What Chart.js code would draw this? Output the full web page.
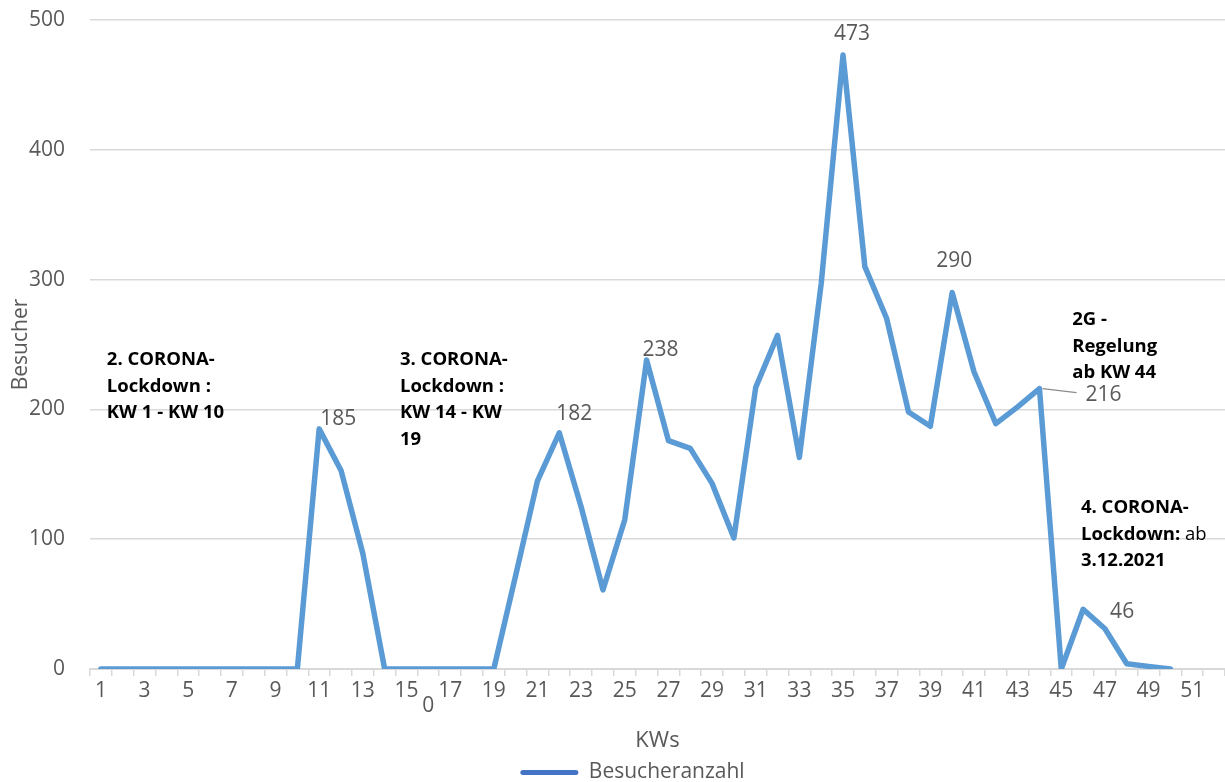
<!DOCTYPE html>
<html lang="de">
<head>
<meta charset="utf-8">
<title>Besucheranzahl pro Kalenderwoche</title>
<script src="https://cdn.jsdelivr.net/npm/chart.js@4.4.1/dist/chart.umd.min.js"></script>
<style>
  html, body { margin: 0; padding: 0; background: #ffffff; }
  #wrap { width: 1225px; height: 782px; position: relative; }
</style>
</head>
<body>
<div id="wrap"><canvas id="chart" width="1225" height="782"></canvas></div>
<script>
// Kalenderwochen (Kategorien)
const weeks = ['1','2','3','4','5','6','7','8','9','10','11','12','13','14','15','16','17','18','19','20',
  '21','22','23','24','25','26','27','28','29','30','31','32','33','34','35','36','37','38','39','40',
  '41','42','43','44','45','46','47','48','49','50','51','52'];

// Besucher je KW
const visitors = [0,0,0,0,0,0,0,0,0,0,
  185,153,89,0,0,0,0,0,0,72,
  145,182,125,61,115,238,176,170,143,101,
  217,257,163,297,473,310,270,198,187,290,
  229,189,202,216,0,46,31,4,2,0,
  null,null];

// Wochen, deren Wert beschriftet wird
const labelledWeeks = [11, 22, 26, 35, 40, 44, 46];

// Y-Achse
const yTicks = [0, 100, 200, 300, 400, 500];

const seriesName = 'Besucheranzahl';
const xTitle = 'KWs';
const yTitle = 'Besucher';

// Hinweise zu Maßnahmen
const notes = [
  { week: 1.27, value: 238, lines: [[['2. CORONA-', true]], [['Lockdown :', true]], [['KW 1 - KW 10', true]]] },
  { week: 14.7, value: 238, lines: [[['3. CORONA-', true]], [['Lockdown :', true]], [['KW 14 - KW', true]], [['19', true]]] },
  { week: 45.5, value: 269, lines: [[['2G -', true]], [['Regelung', true]], [['ab KW 44', true]]] },
  { week: 45.9, value: 124, lines: [[['4. CORONA-', true]], [['Lockdown:', true], [' ab', false]], [['3.12.2021', true]]] }
];

const GRAY = '#595959';
const GRID = '#d9d9d9';
const FONT = '"Open Sans", "Noto Sans", sans-serif';

// Wertbeschriftungen an ausgewählten Punkten
const valueLabels = {
  id: 'valueLabels',
  afterDatasetsDraw(chart) {
    const { ctx, scales: { x, y } } = chart;
    const place = {
      11: [19, -10], 22: [15, -19], 26: [14, -10], 35: [9, -21],
      40: [2, -32], 44: [64, 6], 46: [39, 3]
    };
    ctx.save();
    ctx.font = '21px ' + FONT;
    ctx.fillStyle = GRAY;
    ctx.textAlign = 'center';
    ctx.textBaseline = 'middle';
    labelledWeeks.forEach(w => {
      const i = w - 1;
      const v = visitors[i];
      const px = x.getPixelForValue(i);
      const py = y.getPixelForValue(v);
      const [dx, dy] = place[w];
      if (w === 44) {
        // Führungslinie zur Beschriftung
        ctx.strokeStyle = '#8c8c8c';
        ctx.lineWidth = 1.2;
        ctx.beginPath();
        ctx.moveTo(px + 3, py);
        ctx.lineTo(px + 37, py + 4);
        ctx.stroke();
      }
      ctx.fillText(String(v), px + dx, py + dy);
    });
    // einzelne Beschriftung unter KW 16
    ctx.fillText('0', x.getPixelForValue(15), y.getPixelForValue(0) + 37);
    ctx.restore();
  }
};

// Textblöcke mit Hinweisen
const noteText = {
  id: 'noteText',
  afterDatasetsDraw(chart) {
    const { ctx, scales: { x, y } } = chart;
    ctx.save();
    ctx.fillStyle = '#000000';
    ctx.textAlign = 'left';
    ctx.textBaseline = 'middle';
    notes.forEach(n => {
      const left = x.getPixelForValue(n.week - 1);
      let cy = y.getPixelForValue(n.value);
      n.lines.forEach(line => {
        let cx = left;
        line.forEach(([t, bold]) => {
          ctx.font = (bold ? 'bold ' : '') + '18.5px ' + FONT;
          ctx.fillText(t, cx, cy);
          cx += ctx.measureText(t).width;
        });
        cy += 26.5;
      });
    });
    ctx.restore();
  }
};

// Legende etwas nach rechts und unten rücken
const legendShift = {
  id: 'legendShift',
  afterLayout(chart) {
    const lg = chart.legend;
    if (lg) {
      lg.left += 20; lg.right += 20;
      lg.top += 11; lg.bottom += 11;
    }
  }
};

new Chart(document.getElementById('chart'), {
  type: 'line',
  data: {
    labels: weeks,
    datasets: [{
      label: seriesName,
      data: visitors,
      borderColor: '#5B9BD5',
      backgroundColor: '#5B9BD5',
      borderWidth: 5.5,
      borderJoinStyle: 'round',
      borderCapStyle: 'round',
      pointRadius: 0,
      pointHoverRadius: 0,
      tension: 0,
      fill: false
    }]
  },
  options: {
    responsive: false,
    animation: false,
    devicePixelRatio: 1,
    layout: { padding: { top: 20, left: 0, right: 0, bottom: 0 } },
    plugins: {
      tooltip: { enabled: false },
      legend: {
        display: true,
        position: 'bottom',
        labels: {
          color: GRAY,
          font: { family: FONT, size: 21 },
          boxWidth: 58,
          boxHeight: 5,
          padding: 4,
          useBorderRadius: true,
          borderRadius: 2.5,
          generateLabels: () => [{
            text: seriesName,
            fillStyle: '#4472C4',
            strokeStyle: '#4472C4',
            lineWidth: 0,
            fontColor: GRAY,
            borderRadius: 2.5,
            datasetIndex: 0
          }]
        }
      }
    },
    scales: {
      x: {
        type: 'category',
        offset: true,
        afterFit(scale) {
          const lh = scale.chart.legend ? scale.chart.legend.height : 0;
          scale.height = 113 - lh;
        },
        grid: {
          offset: true,
          drawOnChartArea: false,
          drawTicks: true,
          tickLength: 7,
          color: GRID,
          lineWidth: 1.5
        },
        border: { display: true, color: GRID, width: 2 },
        ticks: {
          autoSkip: false,
          maxRotation: 0,
          minRotation: 0,
          padding: 2,
          color: GRAY,
          font: { family: FONT, size: 21 },
          callback: (v, i) => (i % 2 === 0 ? weeks[i] : '')
        },
        title: {
          display: true,
          text: xTitle,
          color: GRAY,
          font: { family: FONT, size: 22 },
          padding: { top: 0, bottom: -7 }
        }
      },
      y: {
        min: 0,
        max: 500,
        afterFit(scale) { scale.width = 90; },
        afterBuildTicks(scale) { scale.ticks = yTicks.map(v => ({ value: v })); },
        grid: {
          color: GRID,
          lineWidth: 1.5,
          drawTicks: true,
          tickLength: 25,
          tickColor: 'rgba(0,0,0,0)'
        },
        border: { display: false },
        ticks: {
          padding: 0,
          color: GRAY,
          font: { family: FONT, size: 21 }
        },
        title: {
          display: true,
          text: yTitle,
          color: GRAY,
          font: { family: FONT, size: 21 },
          padding: { top: 8, bottom: 0 }
        }
      }
    }
  },
  plugins: [valueLabels, noteText, legendShift]
});
</script>
</body>
</html>
